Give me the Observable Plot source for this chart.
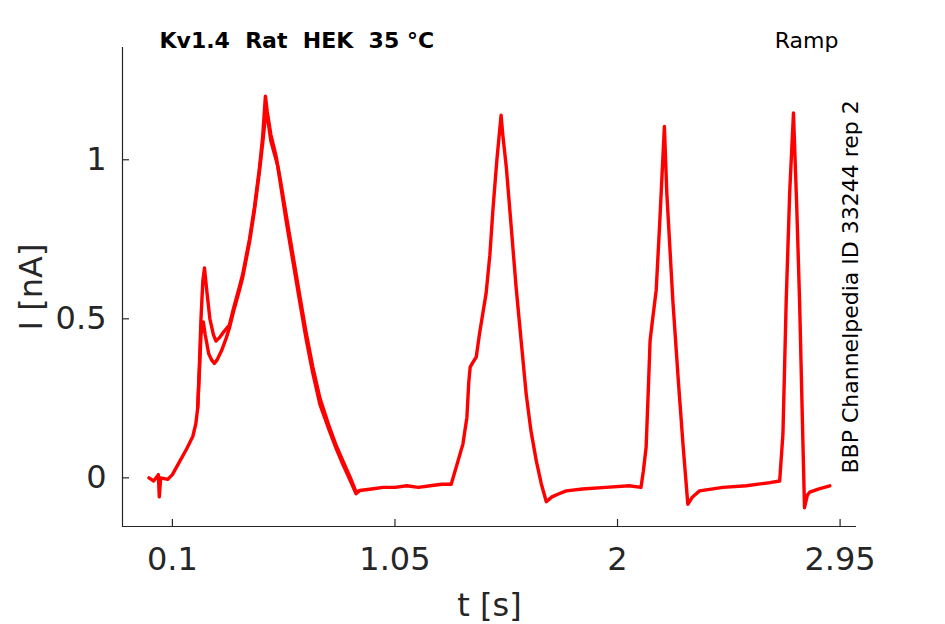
<!DOCTYPE html>
<html>
<head>
<meta charset="utf-8">
<script src="https://cdn.jsdelivr.net/npm/d3@7"></script>
<script src="https://cdn.jsdelivr.net/npm/@observablehq/plot@0.6"></script>
<style>
  html, body { margin: 0; padding: 0; background: #fff; }
</style>
</head>
<body>
<div id="chart"></div>
<script>
// ---- data ----
const xTicks = [0.1, 1.05, 2, 2.95];
const yTicks = [0, 0.5, 1];
const xDomain = [-0.113, 3.02];
const yDomain = [-0.153, 1.353];

const titleText = "Kv1.4\u00A0\u00A0Rat\u00A0\u00A0HEK\u00A0\u00A035 °C";
const protocolText = "Ramp";
const sourceText = "BBP Channelpedia ID 33244 rep 2";
const xLabel = "t [s]";
const yLabel = "I [nA]";

// replicate A: full sweep
const timeA = [0.00, 0.02, 0.04, 0.044, 0.05, 0.08, 0.10, 0.13, 0.16, 0.187, 0.20, 0.208, 0.215, 0.222, 0.230, 0.237, 0.245, 0.26, 0.275, 0.286, 0.30, 0.32, 0.343, 0.36, 0.386, 0.40, 0.429, 0.45, 0.471, 0.485, 0.497, 0.505, 0.52, 0.543, 0.56, 0.585, 0.61, 0.642, 0.67, 0.699, 0.73, 0.77, 0.80, 0.827, 0.86, 0.884, 0.90, 0.95, 1.00, 1.05, 1.10, 1.15, 1.20, 1.25, 1.29, 1.31, 1.34, 1.357, 1.365, 1.371, 1.38, 1.397, 1.411, 1.439, 1.455, 1.468, 1.485, 1.503, 1.51, 1.525, 1.545, 1.567, 1.59, 1.61, 1.63, 1.653, 1.675, 1.696, 1.72, 1.75, 1.781, 1.85, 1.95, 2.05, 2.10, 2.11, 2.122, 2.13, 2.139, 2.15, 2.165, 2.18, 2.20, 2.21, 2.236, 2.26, 2.28, 2.30, 2.32, 2.35, 2.45, 2.55, 2.65, 2.692, 2.706, 2.72, 2.735, 2.751, 2.765, 2.777, 2.79, 2.798, 2.81, 2.82, 2.86, 2.906];
const currentA = [0.00, -0.01, 0.01, -0.06, 0.0, -0.005, 0.01, 0.05, 0.09, 0.13, 0.17, 0.22, 0.35, 0.50, 0.62, 0.66, 0.60, 0.50, 0.45, 0.43, 0.44, 0.46, 0.48, 0.53, 0.60, 0.64, 0.75, 0.85, 0.97, 1.07, 1.20, 1.15, 1.08, 1.01, 0.93, 0.81, 0.70, 0.56, 0.44, 0.33, 0.23, 0.148, 0.09, 0.043, -0.01, -0.05, -0.04, -0.035, -0.03, -0.03, -0.025, -0.03, -0.025, -0.02, -0.02, 0.03, 0.106, 0.19, 0.30, 0.348, 0.36, 0.38, 0.454, 0.58, 0.70, 0.842, 1.00, 1.14, 1.08, 0.979, 0.80, 0.60, 0.42, 0.264, 0.15, 0.054, -0.02, -0.075, -0.06, -0.05, -0.041, -0.035, -0.03, -0.025, -0.03, 0.02, 0.096, 0.25, 0.432, 0.50, 0.59, 0.80, 1.105, 0.90, 0.558, 0.30, 0.10, -0.083, -0.06, -0.041, -0.03, -0.025, -0.015, -0.01, 0.138, 0.558, 0.90, 1.147, 0.85, 0.558, 0.15, -0.094, -0.055, -0.045, -0.035, -0.025];

// replicate B: where it departs from A (first hump and main peak)
const timeB = [0.208, 0.215, 0.222, 0.232, 0.24, 0.255, 0.268, 0.279, 0.29, 0.31, 0.33, 0.343, 0.36, 0.386, 0.40, 0.429, 0.45, 0.471, 0.485, 0.495, 0.505, 0.52, 0.55, 0.56, 0.585, 0.61, 0.642, 0.67, 0.699, 0.73, 0.77, 0.80, 0.827, 0.86, 0.884, 0.90];
const currentB = [0.22, 0.33, 0.45, 0.49, 0.45, 0.39, 0.37, 0.36, 0.37, 0.40, 0.44, 0.47, 0.52, 0.59, 0.63, 0.74, 0.84, 0.96, 1.05, 1.12, 1.14, 1.06, 0.98, 0.94, 0.83, 0.72, 0.58, 0.46, 0.35, 0.25, 0.16, 0.10, 0.055, 0.0, -0.045, -0.04];

const repA = timeA.map((t, i) => ({t, I: currentA[i]}));
const repB = timeB.map((t, i) => ({t, I: currentB[i]}));

const ink = "#262626";
const red = "#ff0000";
const W = 945, H = 624, mL = 122, mR = 89, mT = 47, mB = 98;
const plotW = W - mL - mR, plotH = H - mT - mB;

const chart = Plot.plot({
  width: W, height: H,
  marginLeft: mL, marginRight: mR, marginTop: mT, marginBottom: mB,
  style: {fontFamily: "DejaVu Sans", color: ink, background: "#fff", fontSize: "32px"},
  x: {domain: xDomain},
  y: {domain: yDomain},
  marks: [
    Plot.ruleX([xDomain[0]], {stroke: ink, strokeWidth: 1.2}),
    Plot.ruleY([yDomain[0]], {stroke: ink, strokeWidth: 1.2}),
    Plot.tickX(xTicks, {x: d => d, insetTop: plotH - 7, stroke: ink, strokeWidth: 1.2}),
    Plot.tickY(yTicks, {y: d => d, insetRight: plotW - 7, stroke: ink, strokeWidth: 1.2}),
    Plot.axisX({ticks: xTicks, tickSize: 0, tickPadding: 21, fontSize: 32, tickFormat: d => String(d), label: null}),
    Plot.axisY({ticks: yTicks, tickSize: 0, tickPadding: 16, fontSize: 32, tickFormat: d => String(d), label: null}),
    Plot.line(repA, {x: "t", y: "I", stroke: red, strokeWidth: 3.4, strokeLinejoin: "round"}),
    Plot.line(repB, {x: "t", y: "I", stroke: red, strokeWidth: 3.4, strokeLinejoin: "round"}),
    Plot.text([xLabel], {text: d => d, frameAnchor: "bottom", textAnchor: "middle", lineAnchor: "bottom", dy: 89, fontSize: 32, fill: ink}),
    Plot.text([yLabel], {text: d => d, frameAnchor: "left", textAnchor: "middle", lineAnchor: "bottom", rotate: -90, dx: -81, fontSize: 32, fill: ink}),
    Plot.text([titleText], {text: d => d, frameAnchor: "top-left", textAnchor: "start", lineAnchor: "bottom", dx: 37, fontSize: 22, fontWeight: "bold", fill: "#000"}),
    Plot.text([protocolText], {text: d => d, frameAnchor: "top-right", textAnchor: "end", lineAnchor: "bottom", dx: -18, fontSize: 22, fill: "#000"}),
    Plot.text([sourceText], {text: d => d, frameAnchor: "bottom-right", textAnchor: "start", lineAnchor: "bottom", rotate: -90, dx: 1, dy: -53, fontSize: 22, fill: "#000"})
  ]
});
document.getElementById("chart").appendChild(chart);
</script>
</body>
</html>
